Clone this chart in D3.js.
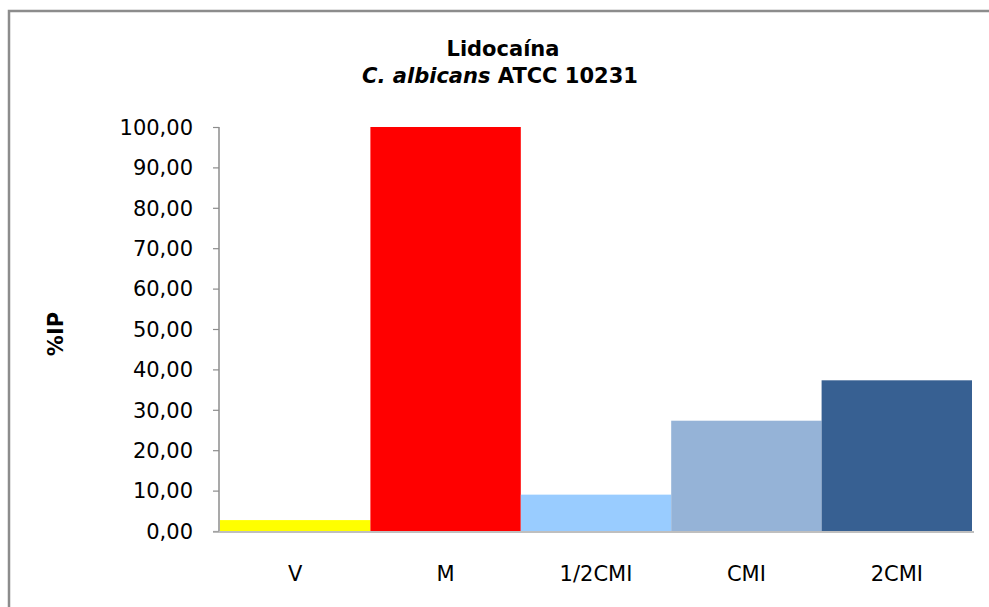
<!DOCTYPE html>
<html>
<head>
<meta charset="utf-8">
<script src="https://cdn.jsdelivr.net/npm/d3@7"></script>
<style>
html,body{margin:0;padding:0;background:#fff;}
svg{display:block;}
</style>
</head>
<body>
<svg id="chart" width="989" height="607"></svg>
<script>
const categories = ["V", "M", "1/2CMI", "CMI", "2CMI"];
const values = [2.7, 100, 9.0, 27.3, 37.3];
const colors = ["#FFFF00", "#FF0000", "#99CCFF", "#95B3D7", "#376092"];
const yTicks = [0, 10, 20, 30, 40, 50, 60, 70, 80, 90, 100];
const yLabel = "%IP";

const svg = d3.select("#chart");
const font = "'DejaVu Sans', Verdana, sans-serif";

// outer frame
svg.append("path")
  .attr("d", "M9,607 V11 H989")
  .attr("fill", "none").attr("stroke", "#8c8c8c").attr("stroke-width", 2.5);

const m = {left: 220, right: 972, top: 127, bottom: 531};
const x = d3.scaleBand().domain(categories).range([m.left, m.right]).padding(0);
const y = d3.scaleLinear().domain([0, 100]).range([m.bottom, m.top]);

// bars
svg.append("g").selectAll("rect").data(categories).join("rect")
  .attr("x", d => x(d))
  .attr("width", x.bandwidth())
  .attr("y", (d, i) => y(values[i]))
  .attr("height", (d, i) => y(0) - y(values[i]))
  .attr("fill", (d, i) => colors[i]);

// y axis
const yAxis = svg.append("g").attr("transform", `translate(${m.left - 1},0)`)
  .call(d3.axisLeft(y).tickValues(yTicks).tickSize(6).tickPadding(20)
    .tickFormat(d => d3.format(".2f")(d).replace(".", ",")));
yAxis.select(".domain").attr("stroke", "#8c8c8c").attr("stroke-width", 1.5)
  .attr("d", `M0,${m.top}V${m.bottom}`);
yAxis.selectAll(".tick line").attr("stroke", "#8c8c8c").attr("stroke-width", 1.2);
yAxis.selectAll(".tick text").attr("font-family", font).attr("font-size", 21)
  .attr("fill", "#000").attr("dy", "0.35em");

// x axis
const xAxis = svg.append("g").attr("transform", `translate(0,${m.bottom + 1})`)
  .call(d3.axisBottom(x).tickSize(0).tickPadding(34));
xAxis.select(".domain").attr("stroke", "#aaaaaa").attr("stroke-width", 1.5)
  .attr("d", `M${m.left - 7},0H${m.right + 2}`);
xAxis.selectAll(".tick text").attr("font-family", font).attr("font-size", 21).attr("fill", "#000");

// y label
svg.append("text")
  .attr("transform", "translate(63,334) rotate(-90)")
  .attr("text-anchor", "middle")
  .attr("font-family", font).attr("font-size", 21).attr("font-weight", "bold")
  .text(yLabel);

// title
svg.append("text")
  .attr("x", 503).attr("y", 56)
  .attr("text-anchor", "middle")
  .attr("font-family", font).attr("font-size", 21).attr("font-weight", "bold")
  .text("Lidocaína");
const t2 = svg.append("text")
  .attr("x", 500).attr("y", 83)
  .attr("text-anchor", "middle")
  .attr("font-family", font).attr("font-size", 21).attr("font-weight", "bold");
t2.append("tspan").attr("font-style", "italic").text("C. albicans");
t2.append("tspan").text(" ATCC 10231");
</script>
</body>
</html>
